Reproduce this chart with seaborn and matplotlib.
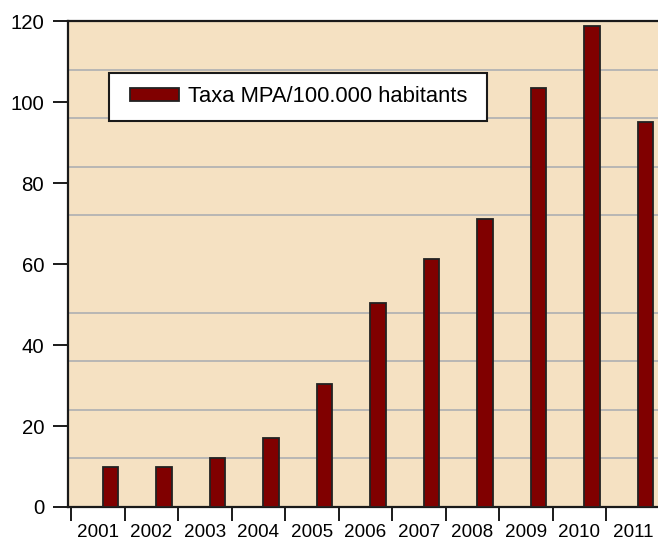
import numpy as np
import pandas as pd
import matplotlib
matplotlib.use("Agg")
import matplotlib.pyplot as plt
from matplotlib.patches import Rectangle
from matplotlib.legend_handler import HandlerPatch
import seaborn as sns

# ── data ──────────────────────────────────────────────────────────────────────
YEARS = [2001, 2002, 2003, 2004, 2005, 2006, 2007, 2008, 2009, 2010, 2011]
RATE = [10, 10, 12, 17, 30.3, 50.3, 61.2, 71.1, 103.5, 118.8, 95]
SERIES = "Taxa MPA/100.000 habitants"
Y_TICKS = [0, 20, 40, 60, 80, 100, 120]
GRID_STEP = 12

df = pd.DataFrame({"year": YEARS, "rate": RATE, "series": SERIES})

# ── style ─────────────────────────────────────────────────────────────────────
plt.rcParams["font.family"] = ["Liberation Sans", "DejaVu Sans"]
BG = "#F5E1C2"
BAR = "#800000"

fig = plt.figure(figsize=(6.58, 5.43), dpi=100, facecolor="white")
ax = fig.add_axes([0.1029, 0.0663, 0.8971, 0.895])
ax.set_facecolor(BG)

sns.barplot(
    data=df, x="year", y="rate", hue="series",
    native_scale=True, width=0.29, saturation=1,
    palette=[BAR], edgecolor="#222222", linewidth=1.3,
    ax=ax, zorder=3,
)

# bars sit right of the category centre; categories bounded by ticks
off = 0.24
years = np.array(YEARS)
ax.set_xlim(years[0] - 0.74 - 0.062, years[-1] + 0.23)
ax.set_xticks(years - 0.74)
ax.set_xticklabels([])
ax.set_xticks(years - off, minor=True)
ax.set_xticklabels([str(y) for y in YEARS], minor=True, fontsize=13.6)
ax.tick_params(axis="x", which="major", direction="out", length=10, width=1.4, color="#1a1a1a")
ax.tick_params(axis="x", which="minor", length=0, pad=12.5)

ax.set_ylim(0, 120)
ax.set_yticks(Y_TICKS)
ax.set_yticklabels([str(v) for v in Y_TICKS], fontsize=14.7)
ax.set_yticks(np.arange(GRID_STEP, 120, GRID_STEP), minor=True)
ax.tick_params(axis="y", which="major", direction="out", length=11, width=1.4, pad=6, color="#1a1a1a")
ax.tick_params(axis="y", which="minor", length=0)
ax.yaxis.grid(True, which="minor", color="#b3b3b3", linewidth=1.3, zorder=1)
ax.set_axisbelow(True)

ax.set_xlabel("")
ax.set_ylabel("")
for side in ["left", "bottom", "top"]:
    ax.spines[side].set_color("#1a1a1a")
    ax.spines[side].set_linewidth(1.6)
ax.spines["right"].set_visible(False)


# legend: extra room left of the swatch
def swatch(legend, orig_handle, xdescent, ydescent, width, height, fontsize):
    pad = 0.32 * fontsize
    return Rectangle((-xdescent + pad, -ydescent), width - pad, height)


handles, labels = ax.get_legend_handles_labels()
leg = ax.legend(
    handles, [labels[0] + " "],
    loc="upper left", bbox_to_anchor=(0.070, 0.8936),
    fontsize=15.8, frameon=True, fancybox=False, framealpha=1,
    edgecolor="#1a1a1a", handlelength=2.55, handleheight=0.55,
    handletextpad=0.42, borderpad=0.62, borderaxespad=0,
    handler_map={type(handles[0]): HandlerPatch(patch_func=swatch)},
)
leg.get_frame().set_linewidth(1.5)
leg.set_zorder(5)

fig.savefig("out.png", dpi=100, facecolor="white")
plt.close(fig)
